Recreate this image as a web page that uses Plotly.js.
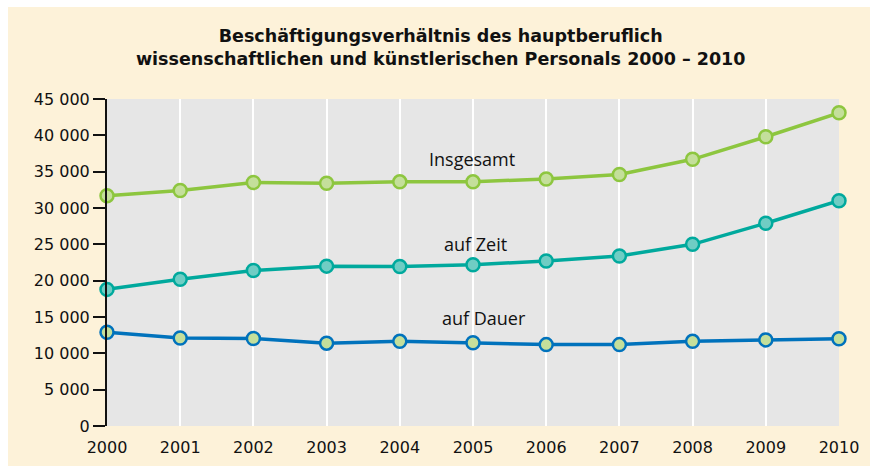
<!DOCTYPE html>
<html><head><meta charset="utf-8">
<script src="https://cdn.plot.ly/plotly-3.0.1.min.js"></script>
<style>html,body{margin:0;padding:0;background:#fff;}#chart{position:absolute;left:8px;top:7px;width:862px;height:459px;}</style>
</head><body><div id="chart"></div>
<script>
const years = [2000,2001,2002,2003,2004,2005,2006,2007,2008,2009,2010];
const insgesamt = [31700,32400,33500,33400,33600,33600,34000,34600,36700,39800,43100];
const aufZeit = [18800,20200,21400,22000,21950,22200,22700,23400,25000,27900,31000];
const aufDauer = [12900,12100,12050,11400,11650,11450,11200,11200,11650,11850,12000];
const seriesNames = ['Insgesamt','auf Zeit','auf Dauer'];
const labelPos = [[2004.99,36800],[2005.04,25100],[2005.15,14900]];

function tr(y, name, lc, fc){
  return {x: years, y: y, name: name, type:'scatter', mode:'lines+markers', cliponaxis:false,
    line:{color:lc, width:3.5},
    marker:{size:13, color:fc, line:{color:lc, width:2.5}}};
}
const data = [
  tr(insgesamt, seriesNames[0], '#8dc63f', '#c4df9b'),
  tr(aufZeit, seriesNames[1], '#00a99d', '#6fcdc4'),
  tr(aufDauer, seriesNames[2], '#0072bc', '#c4df9b')
];
const layout = {
  width:862, height:459,
  paper_bgcolor:'#fdf2d9', plot_bgcolor:'#e6e6e6',
  margin:{l:99, r:31, t:92, b:40},
  showlegend:false,
  separators:', ',
  font:{family:'"DejaVu Sans", sans-serif', color:'#111', size:16},
  title:{text:'<b>Beschäftigungsverhältnis des hauptberuflich<br>wissenschaftlichen und künstlerischen Personals 2000 – 2010</b>',
    font:{family:'"DejaVu Sans", sans-serif', size:17.5, color:'#111'},
    xref:'container', yref:'container', x:0.502, xanchor:'center', y:0.923, yanchor:'middle'},
  xaxis:{range:[2000,2010], tickvals:years, showgrid:true, gridcolor:'#ffffff', gridwidth:2,
    zeroline:false, showline:false, ticks:'outside', ticklen:7, tickcolor:'rgba(0,0,0,0)',
    tickfont:{size:16}, fixedrange:true},
  yaxis:{range:[0,45000], dtick:5000, tickformat:',d', showgrid:false, zeroline:false,
    showline:true, linecolor:'#111', linewidth:2, ticks:'outside', ticklen:12, tickwidth:2,
    tickcolor:'#111', tickfont:{size:16}},
  annotations: seriesNames.map((n,i)=>({x:labelPos[i][0], y:labelPos[i][1], text:n, showarrow:false,
    font:{family:'"Open Sans", sans-serif', size:18, color:'#111'}, xanchor:'center', yanchor:'middle'}))
};
Plotly.newPlot('chart', data, layout, {displayModeBar:false, staticPlot:true});
</script></body></html>
